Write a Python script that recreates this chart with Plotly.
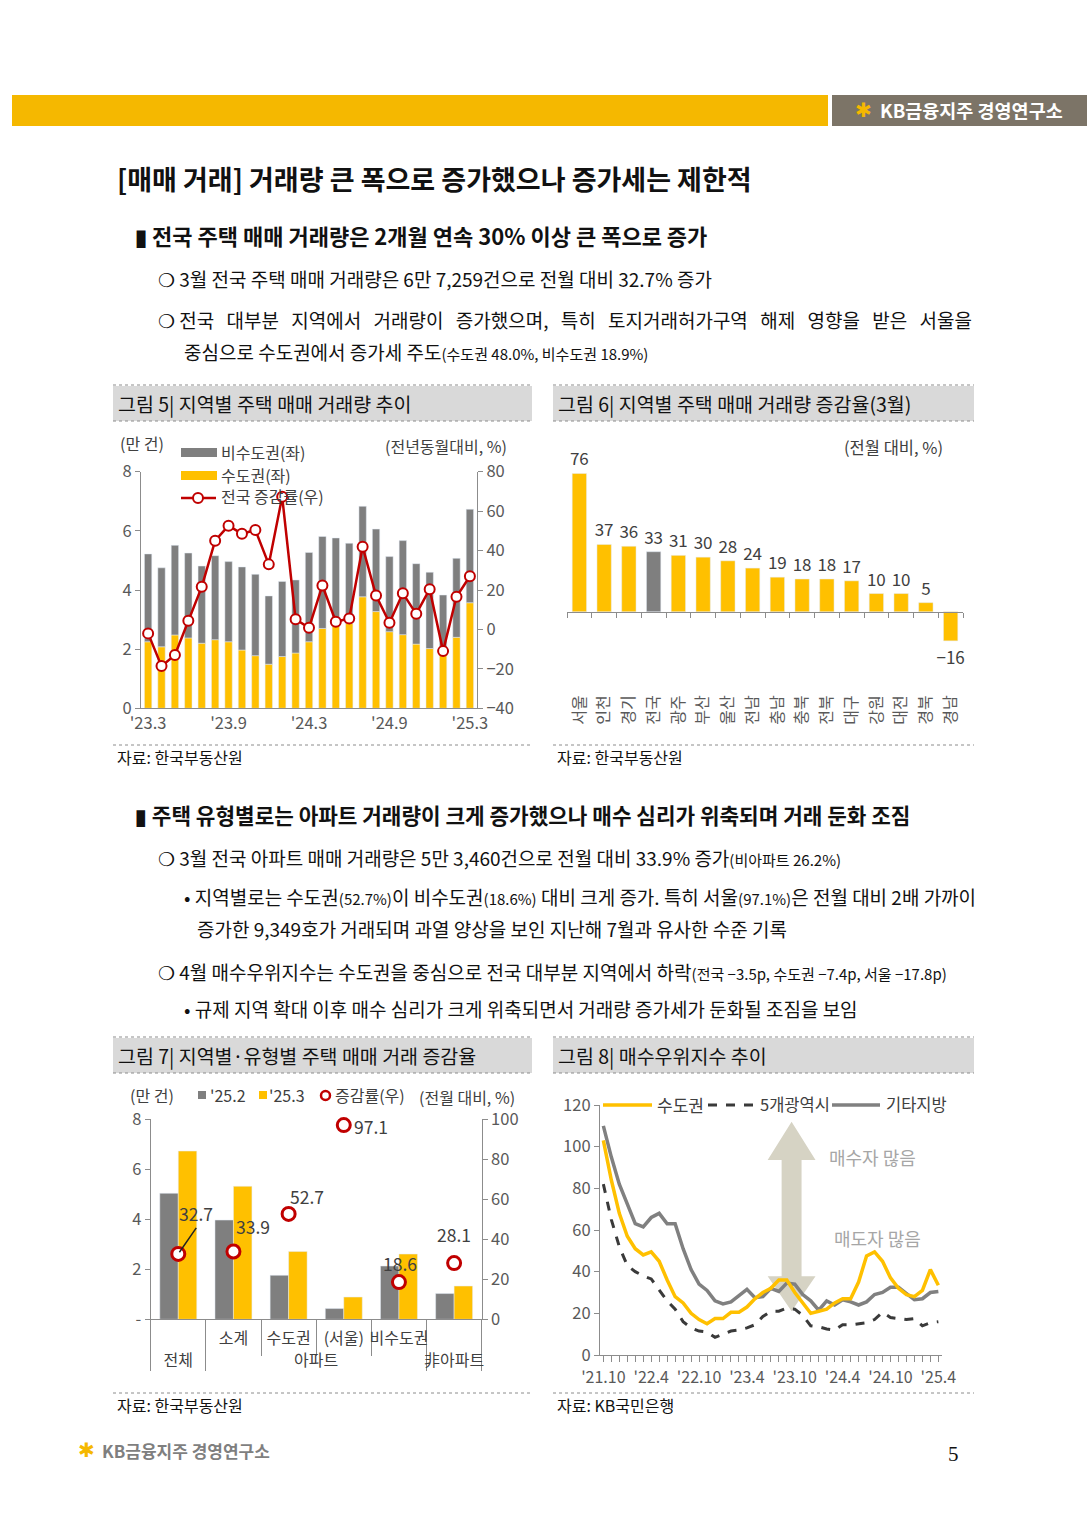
import plotly.graph_objects as go

W, H = 1087, 1537
F = "Noto Sans CJK KR"
YEL = "#FFC000"
GRY = "#7F7F7F"
RED = "#C00000"
AXC = "#8C8C8C"
TXT = "#404040"
BLK = "#111111"

# ---------------- Figure 5 data ----------------
c5_months = ["'23.3", "'23.4", "'23.5", "'23.6", "'23.7", "'23.8", "'23.9", "'23.10", "'23.11", "'23.12",
             "'24.1", "'24.2", "'24.3", "'24.4", "'24.5", "'24.6", "'24.7", "'24.8", "'24.9", "'24.10",
             "'24.11", "'24.12", "'25.1", "'25.2", "'25.3"]
c5_ticks = ["'23.3", "'23.9", "'24.3", "'24.9", "'25.3"]
c5_capital = [2.25, 2.08, 2.48, 2.38, 2.20, 2.32, 2.25, 1.97, 1.78, 1.49, 1.75, 1.87, 2.25, 2.70, 2.78,
              2.87, 3.77, 3.27, 2.59, 2.49, 2.17, 2.02, 1.85, 2.40, 3.57]
c5_noncapital = [2.97, 2.67, 3.03, 2.87, 2.61, 2.84, 2.71, 2.81, 2.75, 2.31, 2.54, 2.47, 3.02, 3.11, 2.98,
                 2.71, 3.06, 2.79, 2.54, 3.18, 2.72, 2.58, 1.98, 2.67, 3.16]
c5_yoy = [-2.0, -18.6, -13.0, 4.4, 21.6, 45.0, 52.6, 48.5, 50.4, 33.0, 67.3, 5.2, 0.8, 22.3, 3.9,
          5.6, 41.9, 17.2, 3.4, 18.3, 7.9, 20.4, -11.0, 16.6, 27.0]

# ---------------- Figure 6 data ----------------
c6_regions = ["서울", "인천", "경기", "전국", "광주", "부산", "울산", "전남", "충남", "충북",
              "전북", "대구", "강원", "대전", "경북", "경남"]
c6_values = [76, 37, 36, 33, 31, 30, 28, 24, 19, 18, 18, 17, 10, 10, 5, -16]

# ---------------- Figure 7 data ----------------
c7_type = ["전체", "아파트", "아파트", "아파트", "아파트", "非아파트"]
c7_region = [" ", "소계", "수도권", "(서울)", "비수도권", "  "]
c7_feb = [5.04, 3.97, 1.76, 0.43, 2.13, 1.03]
c7_mar = [6.73, 5.32, 2.71, 0.89, 2.61, 1.33]
c7_rate = [32.7, 33.9, 52.7, 97.1, 18.6, 28.1]

# ---------------- Figure 8 data ----------------
c8_ticks = ["'21.10", "'22.4", "'22.10", "'23.4", "'23.10", "'24.4", "'24.10", "'25.4"]
c8_capital = [103, 84, 68, 57, 51, 48, 49.5, 45, 36, 28, 25, 20, 17, 15, 17.5, 17.5, 20.5, 20.5, 23, 27,
              30, 32, 36, 36, 30, 25, 20, 21, 22, 25, 27, 27, 35, 47.5, 49.5, 45, 37, 32, 29, 28,
              31, 41, 33.5]
c8_metro = [82, 65, 52, 43, 40, 38, 36.5, 31, 26, 22, 16, 13, 11.5, 11, 8.5, 10, 11.5, 12, 13, 14.5,
            18.5, 21, 21, 22.5, 22, 19, 14, 13.5, 12.5, 12, 14.5, 14.5, 15, 15.5, 17, 20.5, 18, 17.5,
            17, 17.5, 14, 15.5, 16]
c8_other = [110, 95, 82, 72, 63, 61.5, 66, 68, 63, 63, 51, 41, 34, 31, 26, 24.5, 25.5, 28.5, 31.5, 27.5,
            28, 32, 30.5, 34.5, 34, 29, 26, 21.5, 26, 24, 26.5, 25.5, 24, 25.5, 29, 30, 32.5, 32.5,
            29.5, 26.5, 27, 30, 30.5]


def X(p):
    return p / W


def Y(p):
    return 1 - p / H


fig = go.Figure()
ann = []
shapes = []


def txt(x, y, s, size=19, color=BLK, xanchor="left", family=F, yanchor="middle"):
    ann.append(dict(x=X(x), y=Y(y), xref="paper", yref="paper", text=s, showarrow=False,
                    xanchor=xanchor, yanchor=yanchor, font=dict(size=size, color=color, family=family)))


def rect(x0, y0, x1, y1, fill, line=None, lw=0):
    shapes.append(dict(type="rect", xref="paper", yref="paper", x0=X(x0), x1=X(x1), y0=Y(y0), y1=Y(y1),
                       fillcolor=fill, line=dict(width=lw, color=line or fill), layer="below"))


def hline(x0, x1, y, color="#8C8C8C", width=1, dash="dot"):
    shapes.append(dict(type="line", xref="paper", yref="paper", x0=X(x0), x1=X(x1), y0=Y(y), y1=Y(y),
                       line=dict(color=color, width=width, dash=dash)))


SM = "<span style='font-size:15px'>"
SP = "\u00a0\u00a0\u2009"

# ---------------- page decorations ----------------
rect(12, 95, 828, 126, "#F5B800")
rect(832, 95, 1087, 126, "#7C7467")
txt(853, 110, "✱", size=20, color="#F5B800", family="DejaVu Sans")
txt(878, 110, "<b>KB금융지주 경영연구소</b>", size=18.5, color="white")

txt(115, 178, "<b>[매매 거래] 거래량 큰 폭으로 증가했으나 증가세는 제한적</b>", size=27)

txt(133, 235, "<b>▮ 전국 주택 매매 거래량은 2개월 연속 30% 이상 큰 폭으로 증가</b>", size=22)
txt(156, 278, "❍ 3월 전국 주택 매매 거래량은 6만 7,259건으로 전월 대비 32.7% 증가")
txt(156, 320, "❍ 전국" + SP + "대부분" + SP + "지역에서" + SP + "거래량이" + SP + "증가했으며," + SP + "특히" + SP
    + "토지거래허가구역" + SP + "해제" + SP + "영향을" + SP + "받은" + SP + "서울을")
txt(182, 351, "중심으로 수도권에서 증가세 주도" + SM + "(수도권 48.0%, 비수도권 18.9%)</span>")

# chart headers
for (x0, x1, y0, y1, title) in [
    (113, 532, 386, 421, "그림 5| 지역별 주택 매매 거래량 추이"),
    (553, 974, 386, 421, "그림 6| 지역별 주택 매매 거래량 증감율(3월)"),
    (113, 532, 1038, 1073, "그림 7| 지역별·유형별 주택 매매 거래 증감율"),
    (553, 974, 1038, 1073, "그림 8| 매수우위지수 추이"),
]:
    rect(x0, y0, x1, y1, "#D9D9D9")
    hline(x0, x1, y0 - 1)
    hline(x0, x1, y1)
    txt(x0 + 3, (y0 + y1) / 2, title, size=19.5)

# sources
hline(113, 532, 745)
hline(553, 974, 745)
txt(115, 757, "자료: 한국부동산원", size=16)
txt(555, 757, "자료: 한국부동산원", size=16)
hline(113, 532, 1393)
hline(553, 974, 1393)
txt(115, 1405, "자료: 한국부동산원", size=16)
txt(555, 1405, "자료: KB국민은행", size=16)

# second section text
txt(133, 815, "<b>▮ 주택 유형별로는 아파트 거래량이 크게 증가했으나 매수 심리가 위축되며 거래 둔화 조짐</b>", size=21.3)
txt(156, 858, "❍ 3월 전국 아파트 매매 거래량은 5만 3,460건으로 전월 대비 33.9% 증가"
              + SM + "(비아파트 26.2%)</span>")
txt(182, 896, "• 지역별로는 수도권" + SM + "(52.7%)</span>이 비수도권" + SM + "(18.6%)</span> 대비 크게 증가. 특히 서울"
              + SM + "(97.1%)</span>은 전월 대비 2배 가까이")
txt(195, 929, "증가한 9,349호가 거래되며 과열 양상을 보인 지난해 7월과 유사한 수준 기록")
txt(156, 972, "❍ 4월 매수우위지수는 수도권을 중심으로 전국 대부분 지역에서 하락"
              + SM + "(전국 −3.5p, 수도권 −7.4p, 서울 −17.8p)</span>")
txt(182, 1009, "• 규제 지역 확대 이후 매수 심리가 크게 위축되면서 거래량 증가세가 둔화될 조짐을 보임")

# footer
txt(76, 1450, "✱", size=20, color="#F5B800", family="DejaVu Sans")
txt(100, 1450, "<b>KB금융지주 경영연구소</b>", size=17, color="#7F7F7F")
txt(953, 1454, "5", size=21, color=BLK, family="Liberation Serif", xanchor="center")

# ---------------- Figure 5 ----------------
fig.add_trace(go.Bar(x=c5_months, y=c5_capital, marker_color=YEL, width=0.55, offsetgroup="c5",
                     xaxis="x", yaxis="y", showlegend=False))
fig.add_trace(go.Bar(x=c5_months, y=c5_noncapital, base=c5_capital, marker_color=GRY, width=0.55,
                     offsetgroup="c5", xaxis="x", yaxis="y", showlegend=False))
fig.add_trace(go.Scatter(x=c5_months, y=c5_yoy, mode="lines+markers", xaxis="x", yaxis="y2",
                         line=dict(color=RED, width=2.5),
                         marker=dict(size=10, color="white", line=dict(color=RED, width=2)),
                         showlegend=False, cliponaxis=False))

# legend 5 (manual)
rect(181, 448, 217, 457, GRY)
rect(181, 471, 217, 480, YEL)
shapes.append(dict(type="line", xref="paper", yref="paper", x0=X(181), x1=X(216), y0=Y(498), y1=Y(498),
                   line=dict(color=RED, width=2.5)))
shapes.append(dict(type="circle", xref="paper", yref="paper", x0=X(193), x1=X(203), y0=Y(493), y1=Y(503),
                   fillcolor="white", line=dict(color=RED, width=2)))
txt(219, 452, "비수도권(좌)", size=16, color=TXT)
txt(219, 475, "수도권(좌)", size=16, color=TXT)
txt(219, 496, "전국 증감률(우)", size=16, color=TXT)
txt(118, 443, "(만 건)", size=16, color=TXT)
txt(509, 446, "(전년동월대비, %)", size=16, color=TXT, xanchor="right")

# ---------------- Figure 6 ----------------
c6_colors = [GRY if r == "전국" else YEL for r in c6_regions]
c6_text = [str(v).replace("-", "−") for v in c6_values]
fig.add_trace(go.Bar(x=c6_regions, y=c6_values, marker_color=c6_colors, width=0.58, xaxis="x2", yaxis="y3",
                     text=c6_text, textposition="outside", constraintext="none",
                     textfont=dict(size=17, color=TXT, family=F),
                     cliponaxis=False, showlegend=False))
txt(945, 447, "(전월 대비, %)", size=16.5, color=TXT, xanchor="right")

# ---------------- Figure 7 ----------------
fig.add_trace(go.Bar(x=[c7_type, c7_region], y=c7_feb, marker_color=GRY, xaxis="x3", yaxis="y4",
                     showlegend=False))
fig.add_trace(go.Bar(x=[c7_type, c7_region], y=c7_mar, marker_color=YEL, xaxis="x3", yaxis="y4",
                     showlegend=False))
fig.add_trace(go.Scatter(x=[c7_type, c7_region], y=c7_rate, mode="markers", xaxis="x3", yaxis="y5",
                         marker=dict(size=13, color="white", line=dict(color=RED, width=3)),
                         showlegend=False, cliponaxis=False))
c7_offsets = [(18, -24), (20, -25), (18, -17), (27, 1), (1, -19), (0, -29)]
for i, (v, (dx, dy)) in enumerate(zip(c7_rate, c7_offsets)):
    if i == 0:
        ann.append(dict(x=i, y=v, xref="x3", yref="y5", text=f"{v}", showarrow=True, arrowhead=0,
                        arrowwidth=1.5, arrowcolor="#222222", ax=dx, ay=dy - 2, xanchor="center",
                        yanchor="bottom", font=dict(size=17.5, color=TXT, family=F), standoff=2))
    else:
        ann.append(dict(x=i, y=v, xref="x3", yref="y5", text=f"{v}", showarrow=False, xshift=dx,
                        yshift=-dy, font=dict(size=17.5, color=TXT, family=F)))

# legend 7
txt(128, 1095, "(만 건)", size=16, color=TXT)
rect(198, 1091, 206, 1099, GRY)
txt(208, 1095, "'25.2", size=16, color=TXT)
rect(259, 1091, 267, 1099, YEL)
txt(267, 1095, "'25.3", size=16, color=TXT)
shapes.append(dict(type="circle", xref="paper", yref="paper", x0=X(321), x1=X(330), y0=Y(1091), y1=Y(1100),
                   fillcolor="white", line=dict(color=RED, width=2.5)))
txt(333, 1095, "증감률(우)", size=16, color=TXT)
txt(517, 1097, "(전월 대비, %)", size=16, color=TXT, xanchor="right")

# ---------------- Figure 8 ----------------
c8_x = list(range(len(c8_capital)))
fig.add_trace(go.Scatter(x=c8_x, y=c8_metro, mode="lines", line=dict(color="#3A3A3A", width=3, dash="dash"),
                         xaxis="x4", yaxis="y6", showlegend=False))
fig.add_trace(go.Scatter(x=c8_x, y=c8_other, mode="lines", line=dict(color="#808080", width=3.5),
                         xaxis="x4", yaxis="y6", showlegend=False))
fig.add_trace(go.Scatter(x=c8_x, y=c8_capital, mode="lines", line=dict(color=YEL, width=3.5),
                         xaxis="x4", yaxis="y6", showlegend=False))

# double arrow annotation
cx, hw, sw = 23.6, 3.0, 1.25
top, topb, bot, botb = 112, 93.6, 21, 37.8
path = (f"M{cx},{top} L{cx+hw},{topb} L{cx+sw},{topb} L{cx+sw},{botb} L{cx+hw},{botb} L{cx},{bot} "
        f"L{cx-hw},{botb} L{cx-sw},{botb} L{cx-sw},{topb} L{cx-hw},{topb} Z")
shapes.append(dict(type="path", xref="x4", yref="y6", path=path, fillcolor="#D6D3C4",
                   line=dict(width=0), layer="below"))
txt(872, 1157, "매수자 많음", size=18, color="#A6A6A6", xanchor="center")
txt(877, 1238, "매도자 많음", size=18, color="#A6A6A6", xanchor="center")

# legend 8
shapes.append(dict(type="line", xref="paper", yref="paper", x0=X(603), x1=X(652), y0=Y(1105), y1=Y(1105),
                   line=dict(color=YEL, width=3.5)))
txt(655, 1104, "수도권", size=17, color=TXT)
shapes.append(dict(type="line", xref="paper", yref="paper", x0=X(708), x1=X(756), y0=Y(1105), y1=Y(1105),
                   line=dict(color="#3A3A3A", width=3, dash="dash")))
txt(758, 1104, "5개광역시", size=16.5, color=TXT)
shapes.append(dict(type="line", xref="paper", yref="paper", x0=X(832), x1=X(880), y0=Y(1105), y1=Y(1105),
                   line=dict(color="#808080", width=3.5)))
txt(884, 1104, "기타지방", size=16.5, color=TXT)

# ---------------- axes ----------------
tickf = dict(size=16.5, color="#595959", family=F)
common = dict(showgrid=False, zeroline=False, showline=True, linecolor=AXC, linewidth=1.2,
              tickcolor=AXC, tickfont=tickf, automargin=False)


def ax(**kw):
    d = dict(common)
    d.update(kw)
    return d


fig.update_layout(
    width=W, height=H, margin=dict(l=0, r=0, t=0, b=0, pad=0, autoexpand=False),
    paper_bgcolor="white", plot_bgcolor="rgba(0,0,0,0)",
    font=dict(family=F, color=BLK),
    barmode="group", bargap=0.33, bargroupgap=0,
    showlegend=False,
    # chart 5
    xaxis=ax(domain=[X(141), X(477)], anchor="y", type="category", range=[-0.53, 24.53],
             tickmode="array", tickvals=c5_ticks, ticktext=c5_ticks, ticks=""),
    yaxis=ax(domain=[Y(708.3), Y(471.7)], anchor="x", range=[0, 8], dtick=2, ticks="outside", ticklen=5),
    yaxis2=ax(overlaying="y", side="right", anchor="x", range=[-40, 80], dtick=20, ticks="outside",
              ticklen=5),
    # chart 6
    xaxis2=ax(domain=[X(567), X(963)], anchor="free", position=Y(611.7), type="category",
              range=[-0.5, 15.5], ticks="outside", tickson="boundaries", ticklen=5, tickangle=-90,
              ticklabelstandoff=76, tickfont=dict(size=16, color="#595959", family=F)),
    yaxis3=dict(domain=[Y(700), Y(460)], anchor="x2", range=[-48.5, 83.4], visible=False, automargin=False),
    # chart 7
    xaxis3=ax(domain=[X(150.7), X(481.7)], anchor="y4", type="multicategory", ticks="outside",
              ticklen=36, tickangle=0, showdividers=True, dividercolor=AXC, dividerwidth=1.2,
              ticklabelstandoff=4, tickfont=dict(size=16, color=TXT, family=F)),
    yaxis4=ax(domain=[Y(1319.3), Y(1119.3)], anchor="x3", range=[0, 8], tickmode="array",
              tickvals=[0, 2, 4, 6, 8], ticktext=["-", "2", "4", "6", "8"], ticks="outside", ticklen=5),
    yaxis5=ax(overlaying="y4", side="right", anchor="x3", range=[0, 100], dtick=20, ticks="outside",
              ticklen=5),
    # chart 8
    xaxis4=ax(domain=[X(600), X(941.7)], anchor="y6", range=[-0.42, 42.42], tickmode="array",
              tickvals=list(range(0, len(c8_capital), 6)), ticktext=c8_ticks, ticks="outside", ticklen=6,
              minor=dict(tickmode="linear", tick0=0, dtick=1, ticks="outside", ticklen=6, tickcolor=AXC),
              ticklabelstandoff=2, tickfont=dict(size=16, color="#595959", family=F)),
    yaxis6=ax(domain=[Y(1355), Y(1105)], anchor="x4", range=[0, 120], dtick=20, ticks="outside",
              ticklen=5),
    annotations=ann,
    shapes=shapes,
)

fig.write_html("out.html", config={"displayModeBar": False},
               post_script="document.body.style.margin='0';document.body.style.padding='0';")
